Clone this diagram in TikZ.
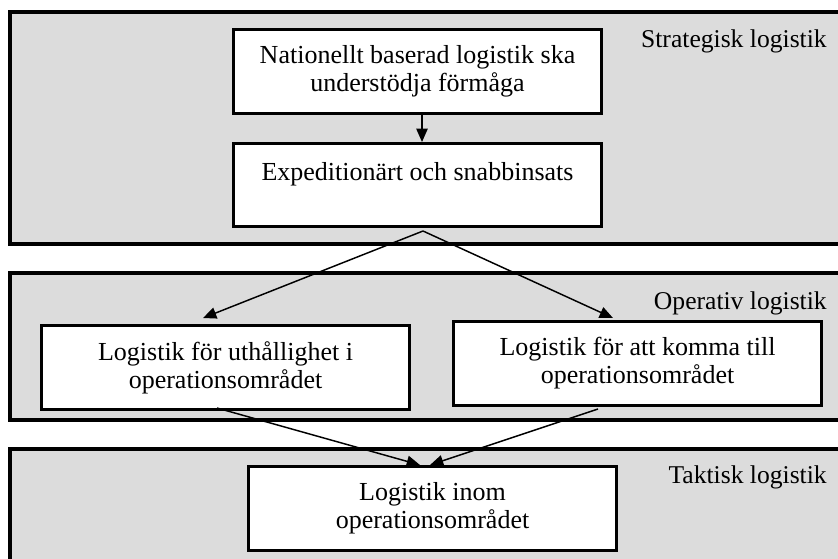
\documentclass[tikz,border=0pt]{standalone}
\usepackage{fontspec}
\setmainfont{Liberation Serif}
\usetikzlibrary{arrows.meta,calc}
\definecolor{panelgray}{HTML}{DCDCDC}
\tikzset{
  panel/.style={draw=black, line width=2.4pt, fill=panelgray},
  flowbox/.style={draw=black, line width=2.25pt, fill=white, anchor=north west,
    minimum width=276pt, minimum height=63pt, inner sep=0pt, align=center,
    font=\fontsize{19.5pt}{21pt}\selectfont},
  levellabel/.style={anchor=base east, inner sep=0pt, font=\fontsize{19.2pt}{21pt}\selectfont},
  flowarrow/.style={draw=black, line width=1.1pt, -{Triangle[length=10pt,width=8.5pt]}}
}
\begin{document}
\begin{tikzpicture}[x=0.75pt,y=-0.75pt]
\useasboundingbox (0,0) rectangle (838,558);
% panels
\draw[panel] (10,12) rectangle (850,244);
\draw[panel] (10,273) rectangle (850,420);
\draw[panel] (10,449) rectangle (850,570);
% level labels
\node[levellabel] (ls) at (827,47) {Strategisk logistik};
\node[levellabel] (lo) at (827,309) {Operativ logistik};
\node[levellabel] (lt) at (827,483) {Taktisk logistik};
% boxes
\node[flowbox] (A) at (232,28) {Nationellt baserad logistik ska\\understödja förmåga};
\node[flowbox, minimum height=62.25pt] (B) at (232,142) {Expeditionärt och snabbinsats\\\mbox{}};
\node[flowbox] (C) at (40,324) {Logistik för uthållighet i\\operationsområdet};
\node[flowbox] (D) at (452,320) {Logistik för att komma till\\operationsområdet};
\node[flowbox] (E) at (247,465) {Logistik inom\\operationsområdet};
% arrows
\draw[flowarrow] ($(A.south west)+(190,0)$) -- ($(B.north west)+(190,0)$);
\draw[flowarrow] ($(B.south west)+(191,3)$) -- ($(C.north west)+(163,-6)$);
\draw[flowarrow] ($(B.south west)+(191,3)$) -- ($(D.north west)+(161,-2)$);
\draw[flowarrow] ($(C.south west)+(177,-3)$) -- ($(E.north west)+(173,0)$);
\draw[flowarrow] ($(D.south west)+(146,2)$) -- ($(E.north west)+(183,0)$);
\end{tikzpicture}
\end{document}
